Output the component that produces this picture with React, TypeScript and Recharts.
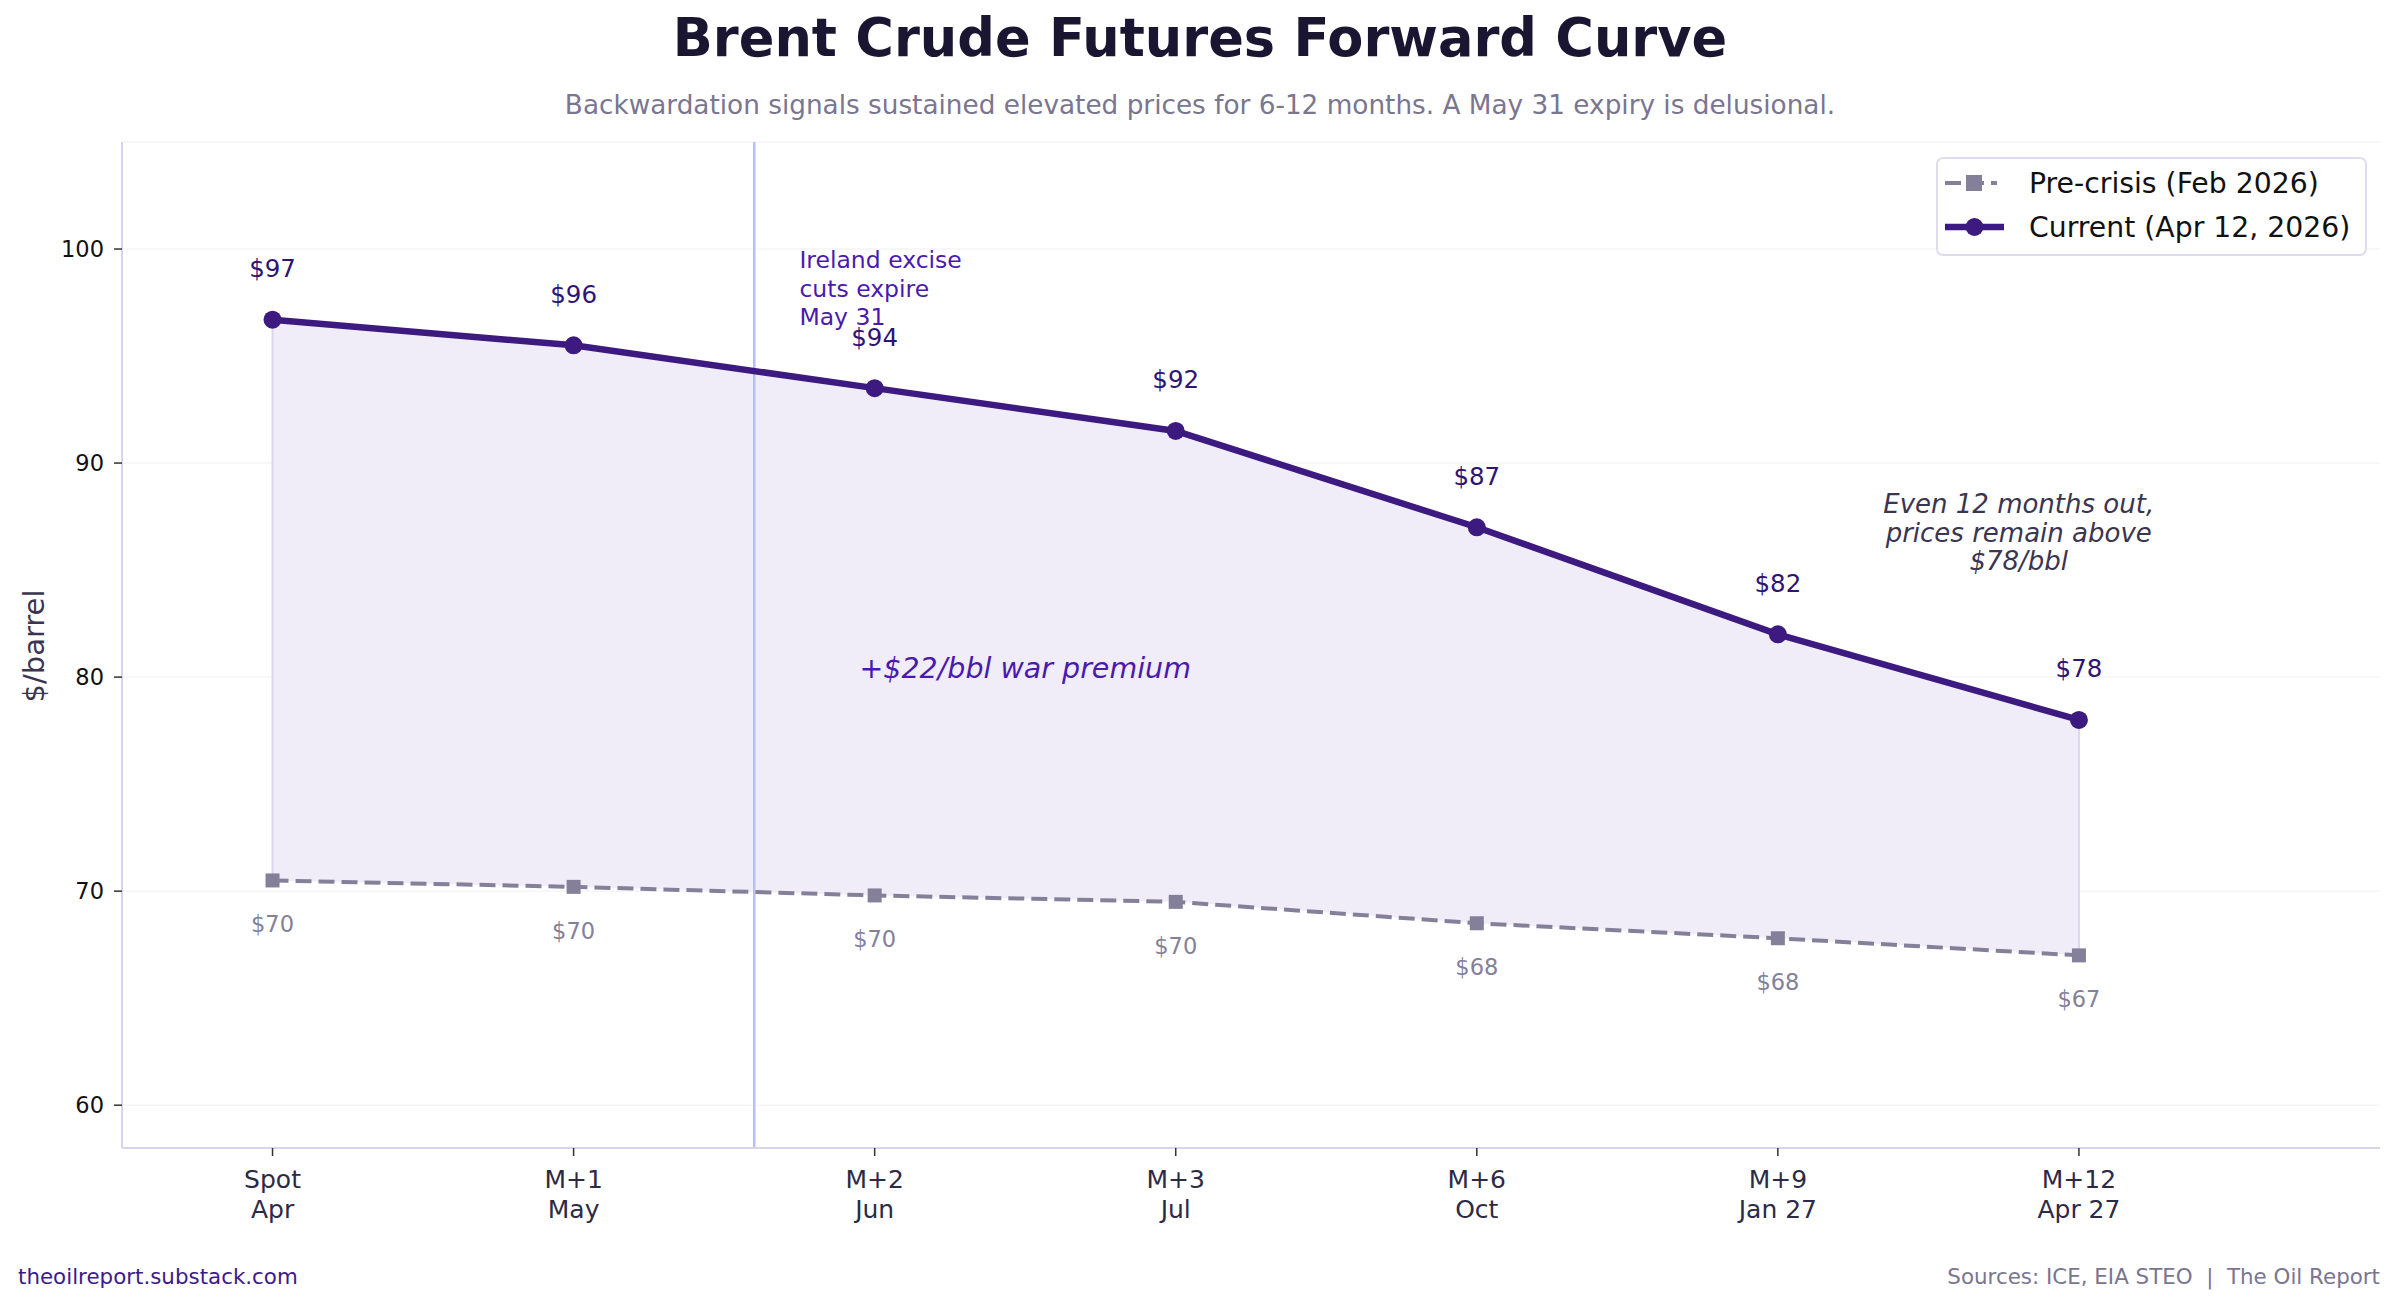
import React from 'react';
import {
  ComposedChart,
  Line,
  Area,
  XAxis,
  YAxis,
  CartesianGrid,
  ReferenceLine,
  ReferenceDot,
} from 'recharts';

const FONT = '"DejaVu Sans", "Liberation Sans", sans-serif';

const tickTop = ['Spot', 'M+1', 'M+2', 'M+3', 'M+6', 'M+9', 'M+12'];
const tickBottom = ['Apr', 'May', 'Jun', 'Jul', 'Oct', 'Jan 27', 'Apr 27'];
const current = [96.7, 95.5, 93.5, 91.5, 87.0, 82.0, 78.0];
const preCrisis = [70.5, 70.2, 69.8, 69.5, 68.5, 67.8, 67.0];
const currentLabels = ['$97', '$96', '$94', '$92', '$87', '$82', '$78'];
const preLabels = ['$70', '$70', '$70', '$70', '$68', '$68', '$67'];
const yTicks = [60, 70, 80, 90, 100];

const expiryX = 1.6;
const irelandPos = { x: 1.75, y: 98.15 };
const premiumPos = { x: 2.5, y: 80.4 };
const notePos = { x: 5.8, y: 86.75 };

const CUR_COLOR = '#3c1a80';
const PRE_COLOR = '#858099';

const data = tickTop.map((t, i) => ({
  x: i,
  cur: current[i],
  pre: preCrisis[i],
  range: [preCrisis[i], current[i]],
}));

const XTick = (props: any) => {
  const { x, y, payload } = props;
  const i = payload.value;
  return (
    <g>
      <text x={x} y={y + 21} textAnchor="middle" dominantBaseline="central" fontFamily={FONT} fontSize={25} fill="#2d2a45">
        {tickTop[i]}
      </text>
      <text x={x} y={y + 51} textAnchor="middle" dominantBaseline="central" fontFamily={FONT} fontSize={25} fill="#2d2a45">
        {tickBottom[i]}
      </text>
    </g>
  );
};

const YTick = (props: any) => {
  const { x, y, payload } = props;
  return (
    <text x={x - 4} y={y} textAnchor="end" dominantBaseline="central" fontFamily={FONT} fontSize={22.5} fill="#111">
      {payload.value}
    </text>
  );
};

const curLabel = (props: any) => {
  const { x, y, index } = props;
  return (
    <text key={'cl' + index} x={x} y={y - 51} textAnchor="middle" dominantBaseline="central" fontFamily={FONT} fontSize={24.5} fill="#2e1473">
      {currentLabels[index]}
    </text>
  );
};

const preLabel = (props: any) => {
  const { x, y, index } = props;
  return (
    <text key={'pl' + index} x={x} y={y + 44} textAnchor="middle" dominantBaseline="central" fontFamily={FONT} fontSize={22.5} fill="#858099">
      {preLabels[index]}
    </text>
  );
};

const SquareDot = (props: any) => {
  const { cx, cy, index } = props;
  return <rect key={'sq' + index} x={cx - 7} y={cy - 7} width={14} height={14} fill={PRE_COLOR} />;
};

const CircleDot = (props: any) => {
  const { cx, cy, index } = props;
  return <circle key={'cd' + index} cx={cx} cy={cy} r={9} fill={CUR_COLOR} />;
};

const multiLine = (lines: string[], anchor: 'start' | 'middle', size: number, color: string, italic: boolean, step: number) =>
  (props: any) => {
    const vb = props.viewBox || {};
    const cx = (vb.x || 0) + (vb.width || 0) / 2;
    const cy = (vb.y || 0) + (vb.height || 0) / 2;
    const start = cy - ((lines.length - 1) * step) / 2;
    return (
      <g>
        {lines.map((l, k) => (
          <text
            key={k}
            x={cx}
            y={start + k * step}
            textAnchor={anchor}
            dominantBaseline="central"
            fontFamily={FONT}
            fontSize={size}
            fontStyle={italic ? 'italic' : 'normal'}
            fill={color}
          >
            {l}
          </text>
        ))}
      </g>
    );
  };

const Legend = () => (
  <div
    style={{
      position: 'absolute',
      left: 1936,
      top: 157,
      width: 431,
      height: 99,
      boxSizing: 'border-box',
      border: '2px solid #e0dcf0',
      borderRadius: 7,
      background: 'rgba(255,255,255,0.9)',
    }}
  >
    <svg width={431} height={99} style={{ position: 'absolute', left: -2, top: -2 }}>
      <line x1={9} y1={26} x2={68} y2={26} stroke={PRE_COLOR} strokeWidth={4} strokeDasharray="16 7 16 7 6" />
      <rect x={30} y={18} width={16} height={16} fill={PRE_COLOR} />
      <text x={93} y={26} dominantBaseline="central" fontFamily={FONT} fontSize={28.3} fill="#111">
        Pre-crisis (Feb 2026)
      </text>
      <line x1={9} y1={70} x2={68} y2={70} stroke={CUR_COLOR} strokeWidth={6.5} />
      <circle cx={38.5} cy={70} r={9} fill={CUR_COLOR} />
      <text x={93} y={70} dominantBaseline="central" fontFamily={FONT} fontSize={28.3} fill="#111">
        Current (Apr 12, 2026)
      </text>
    </svg>
  </div>
);

export default function App() {
  return (
    <div style={{ position: 'absolute', left: 0, top: 0, width: 2400, height: 1307, background: '#fff', fontFamily: FONT }}>
      <div style={{ position: 'absolute', left: 0, top: 38, width: 2400, textAlign: 'center', transform: 'translateY(-50%)', fontSize: 52.6, fontWeight: 'bold', color: '#1a1530', lineHeight: 1 }}>
        Brent Crude Futures Forward Curve
      </div>
      <div style={{ position: 'absolute', left: 0, top: 105, width: 2400, textAlign: 'center', transform: 'translateY(-50%)', fontSize: 26.3, color: '#7a7590', lineHeight: 1 }}>
        Backwardation signals sustained elevated prices for 6-12 months. A May 31 expiry is delusional.
      </div>
      <div style={{ position: 'absolute', left: 34, top: 646, transform: 'translate(-50%, -50%) rotate(-90deg)', fontSize: 29, color: '#3a3550', whiteSpace: 'nowrap', lineHeight: 1 }}>
        $/barrel
      </div>
      <div style={{ position: 'absolute', left: 0, top: 0 }}>
        <ComposedChart width={2400} height={1307} data={data} margin={{ top: 142, right: 20, bottom: 79, left: 0 }}>
          <CartesianGrid vertical={false} stroke="#f5f4f7" strokeWidth={1.5} />
          <XAxis
            type="number"
            dataKey="x"
            domain={[-0.5, 7]}
            ticks={[0, 1, 2, 3, 4, 5, 6]}
            allowDataOverflow
            height={80}
            tick={<XTick />}
            tickSize={8}
            tickMargin={2}
            axisLine={{ stroke: '#d8d4ec', strokeWidth: 2 }}
            tickLine={{ stroke: '#333', strokeWidth: 1.5 }}
          />
          <YAxis
            type="number"
            domain={[58, 105]}
            ticks={yTicks}
            allowDataOverflow
            width={122}
            tick={<YTick />}
            tickSize={8}
            tickMargin={6}
            axisLine={{ stroke: '#d8d4ec', strokeWidth: 2 }}
            tickLine={{ stroke: '#333', strokeWidth: 1.5 }}
          />
          <Area
            type="linear"
            dataKey="range"
            fill="#f0edf8"
            fillOpacity={1}
            stroke="none"
            isAnimationActive={false}
            activeDot={false}
          />
          <ReferenceLine
            segment={[{ x: 0, y: preCrisis[0] }, { x: 0, y: current[0] }]}
            stroke="#dcd6ee"
            strokeWidth={2}
          />
          <ReferenceLine
            segment={[{ x: 6, y: preCrisis[6] }, { x: 6, y: current[6] }]}
            stroke="#dcd6ee"
            strokeWidth={2}
          />
          <ReferenceLine x={expiryX} stroke="#b8c0ee" strokeWidth={2.5} />
          <Line
            type="linear"
            dataKey="pre"
            stroke={PRE_COLOR}
            strokeWidth={4}
            strokeDasharray="16 7"
            dot={<SquareDot />}
            activeDot={false}
            label={preLabel}
            isAnimationActive={false}
          />
          <Line
            type="linear"
            dataKey="cur"
            stroke={CUR_COLOR}
            strokeWidth={6.5}
            dot={<CircleDot />}
            activeDot={false}
            label={curLabel}
            isAnimationActive={false}
          />
          <ReferenceDot
            x={irelandPos.x}
            y={irelandPos.y}
            r={0}
            fill="none"
            stroke="none"
            ifOverflow="visible"
            label={{ content: multiLine(['Ireland excise', 'cuts expire', 'May 31'], 'start', 23.5, '#4a1ab0', false, 28.5) }}
          />
          <ReferenceDot
            x={premiumPos.x}
            y={premiumPos.y}
            r={0}
            fill="none"
            stroke="none"
            ifOverflow="visible"
            label={{ content: multiLine(['+$22/bbl war premium'], 'middle', 28.5, '#4a1ab0', true, 30) }}
          />
          <ReferenceDot
            x={notePos.x}
            y={notePos.y}
            r={0}
            fill="none"
            stroke="none"
            ifOverflow="visible"
            label={{ content: multiLine(['Even 12 months out,', 'prices remain above', '$78/bbl'], 'middle', 26, '#3a3550', true, 28.5) }}
          />
        </ComposedChart>
      </div>
      <Legend />
      <div style={{ position: 'absolute', left: 18, top: 1277, transform: 'translateY(-50%)', fontSize: 21.4, color: '#3d1a8a', lineHeight: 1 }}>
        theoilreport.substack.com
      </div>
      <div style={{ position: 'absolute', right: 20, top: 1277, transform: 'translateY(-50%)', fontSize: 21.4, color: '#7a7590', lineHeight: 1, whiteSpace: 'pre' }}>
        {'Sources: ICE, EIA STEO  |  The Oil Report'}
      </div>
    </div>
  );
}
